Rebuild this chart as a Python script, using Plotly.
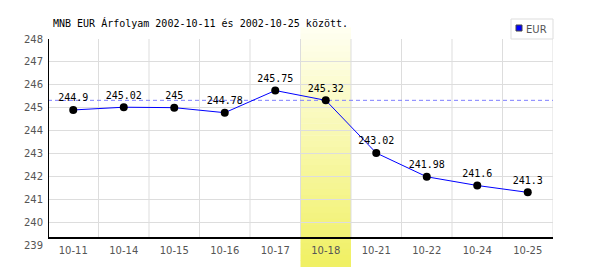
import plotly.graph_objects as go

# ---- data ----
categories = ["10-11", "10-14", "10-15", "10-16", "10-17", "10-18", "10-21", "10-22", "10-24", "10-25"]
eur_values = [244.9, 245.02, 245.0, 244.78, 245.75, 245.32, 243.02, 241.98, 241.6, 241.3]
y_ticks = [239, 240, 241, 242, 243, 244, 245, 246, 247, 248]
highlight_index = 5
title_text = "MNB EUR Árfolyam 2002-10-11 és 2002-10-25 között."
series_name = "EUR"

# ---- style ----
AXIS_LINE_Y = 239.31
GRID = "#dddddd"
MONO = "DejaVu Sans Mono"
SANS = "DejaVu Sans"
n = len(categories)
xs = list(range(n))

# plot area in pixels (for paper-coordinate helpers)
L, R, T, B = 48, 47, 39, 25
PW, PH = 600 - L - R, 270 - T - B


def px_x(p):
    return (p - L) / PW


def px_y(p):
    return (270 - B - p) / PH


fig = go.Figure()

fig.add_trace(go.Scatter(
    x=xs, y=eur_values, mode="lines+markers+text", name=series_name,
    line=dict(color="#0000ff", width=1),
    marker=dict(color="black", size=8),
    text=[f"{v:g}" for v in eur_values],
    textposition="top center",
    textfont=dict(family=MONO, size=10, color="black"),
    showlegend=False, cliponaxis=False,
))

shapes = []
# vertical gridlines at category boundaries
for i in range(n):
    shapes.append(dict(type="line", xref="x", yref="y", x0=i + 0.5, x1=i + 0.5,
                       y0=AXIS_LINE_Y, y1=y_ticks[-1], line=dict(color=GRID, width=1), layer="between"))
# highlighted band with vertical gradient
top_c = (255, 255, 242)
bot_c = (240, 240, 98)
y_top, y_bot = px_y(28), px_y(267)
steps = 40
for k in range(steps):
    t = (k + 0.5) / steps
    c = tuple(round(top_c[j] + (bot_c[j] - top_c[j]) * t) for j in range(3))
    y1 = y_top - (y_top - y_bot) * k / steps
    y0 = y_top - (y_top - y_bot) * (k + 1) / steps
    shapes.append(dict(type="rect", xref="x", yref="paper",
                       x0=highlight_index - 0.5, x1=highlight_index + 0.5,
                       y0=y0, y1=y1 + 0.002, fillcolor=f"rgb{c}", line=dict(width=0), layer="between"))
# dashed reference line at highlighted value
shapes.append(dict(type="line", xref="x", yref="y", x0=-0.5, x1=n - 0.5,
                   y0=eur_values[highlight_index], y1=eur_values[highlight_index],
                   line=dict(color="#7f7fff", width=1, dash="4px,3px"), layer="between"))
# axis lines
shapes.append(dict(type="line", xref="x", yref="y", x0=-0.5, x1=n - 0.5,
                   y0=AXIS_LINE_Y, y1=AXIS_LINE_Y, line=dict(color="black", width=2), layer="between"))
shapes.append(dict(type="line", xref="x", yref="y", x0=-0.5, x1=-0.5,
                   y0=AXIS_LINE_Y, y1=y_ticks[-1], line=dict(color="black", width=2), layer="between"))
# legend box
shapes.append(dict(type="rect", xref="paper", yref="paper", x0=px_x(511), x1=px_x(553),
                   y0=px_y(39), y1=px_y(19), line=dict(color=GRID, width=1), fillcolor="white"))
shapes.append(dict(type="rect", xref="paper", yref="paper", x0=px_x(516), x1=px_x(522),
                   y0=px_y(31), y1=px_y(25), line=dict(color="#444444", width=1), fillcolor="#0000ff"))

annotations = [dict(text=series_name, xref="paper", yref="paper", x=px_x(523.5), y=px_y(29),
                    xanchor="left", yanchor="middle", showarrow=False,
                    font=dict(family=SANS, size=10, color="#555555"))]

fig.update_layout(
    width=600, height=270,
    margin=dict(l=L, r=R, t=T, b=B),
    paper_bgcolor="white", plot_bgcolor="white",
    shapes=shapes, annotations=annotations, showlegend=False,
    title=dict(text=title_text, font=dict(family=MONO, size=10, color="black"),
               x=px_x(53), xref="paper", xanchor="left", y=1 - 23 / 270, yanchor="middle"),
    xaxis=dict(range=[-0.5, n - 0.5], tickmode="array", tickvals=xs, ticktext=categories,
               showgrid=False, zeroline=False, showline=False, ticks="", ticklabelstandoff=-2,
               tickfont=dict(family=SANS, size=10, color="#555555")),
    yaxis=dict(range=[y_ticks[0], y_ticks[-1]], tickmode="array", tickvals=y_ticks,
               showgrid=True, gridcolor=GRID, gridwidth=1, zeroline=False, showline=False,
               ticks="", ticklabelstandoff=4,
               tickfont=dict(family=SANS, size=10, color="#555555")),
)

fig.write_html("out.html")
